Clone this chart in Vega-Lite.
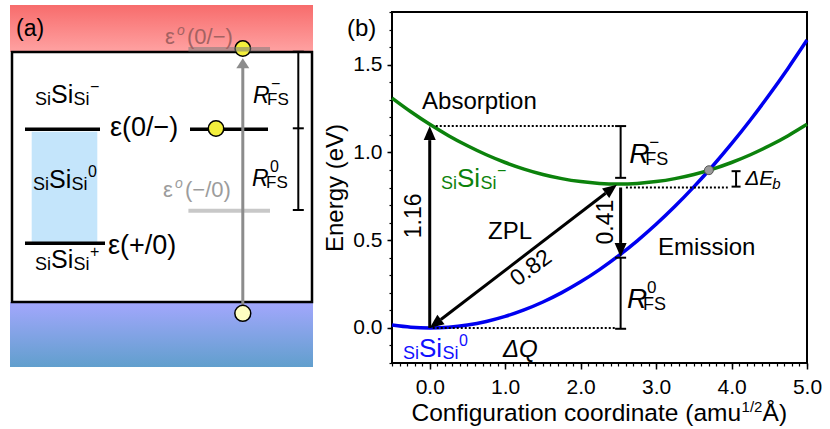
{
"$schema":"https://vega.github.io/schema/vega-lite/v6.json",
"width":415,"height":351,
"autosize":{"type":"none"},
"padding":{"left":392,"top":12,"right":23,"bottom":66},
"background":"white",
"config":{"font":"Liberation Sans","view":{"stroke":"black","strokeWidth":2}},
"datasets":{
"curves":[
{"Q":-0.5,"E0":0.0164,"Em":1.3096},{"Q":-0.25,"E0":0.0041,"Em":1.2314},{"Q":0,"E0":0,"Em":1.16},{"Q":0.25,"E0":0.0041,"Em":1.0954},{"Q":0.5,"E0":0.0164,"Em":1.0376},{"Q":0.75,"E0":0.0369,"Em":0.9866},{"Q":1,"E0":0.0656,"Em":0.9424},{"Q":1.25,"E0":0.1025,"Em":0.905},{"Q":1.5,"E0":0.1476,"Em":0.8744},{"Q":1.75,"E0":0.2009,"Em":0.8506},{"Q":2,"E0":0.2624,"Em":0.8336},{"Q":2.25,"E0":0.3321,"Em":0.8234},{"Q":2.5,"E0":0.41,"Em":0.82},{"Q":2.75,"E0":0.4961,"Em":0.8234},{"Q":3,"E0":0.5904,"Em":0.8336},{"Q":3.25,"E0":0.6929,"Em":0.8506},{"Q":3.5,"E0":0.8036,"Em":0.8744},{"Q":3.75,"E0":0.9225,"Em":0.905},{"Q":4,"E0":1.0496,"Em":0.9424},{"Q":4.25,"E0":1.1849,"Em":0.9866},{"Q":4.5,"E0":1.3284,"Em":1.0376},{"Q":4.75,"E0":1.4801,"Em":1.0954},{"Q":5,"E0":1.64,"Em":1.16}],
"dots":[{"Q":0.08,"Q2":2.47,"E":1.15},{"Q":2.6,"Q2":3.95,"E":0.8},{"Q":0.04,"Q2":2.47,"E":0}],
"shafts":[{"Q":0,"E":0,"Q2":0,"E2":1.07},{"Q":2.53,"E":0.8,"Q2":2.53,"E2":0.484},{"Q":0.148,"E":0.048,"Q2":2.331,"E2":0.767}],
"brk":[{"Q":2.53,"E":0.855,"E2":1.15},{"Q":2.53,"E":-0.005,"E2":0.4},{"Q":4.06,"E":0.805,"E2":0.893}],
"caps11":[{"Q":2.53,"E":0.855},{"Q":2.53,"E":1.15},{"Q":2.53,"E":-0.005},{"Q":2.53,"E":0.4}],
"caps9":[{"Q":4.06,"E":0.805},{"Q":4.06,"E":0.893}],
"txt_b":[{"Q":-1.096,"E":1.666,"t":"(b)"},{"Q":-0.102,"E":1.247,"t":"Absorption"},{"Q":0.773,"E":0.507,"t":"ZPL"},{"Q":3.026,"E":0.415,"t":"Emission"}],
"rot_b":[{"Q":-0.115,"E":0.638,"t":"1.16"},{"Q":2.429,"E":0.603,"t":"0.41"}],
"sis_b":[{"Q":0.149,"E":0.803,"state":"neg","sup":"−"},{"Q":-0.354,"E":-0.165,"state":"neu","sup":"0"}],
"rfs_b":[{"Q":2.643,"E":0.94,"sup":"−"},{"Q":2.615,"E":0.113,"sup":"0"}],
"xt":[{"Q":4.126,"E":-0.533}],
"sis_a":[{"u":1.15,"v":9.975,"sup":"−"},{"u":1.05,"v":5.7,"sup":"0"},{"u":1.15,"v":1.7,"sup":"+"}],
"eps_a":[{"u":4.9,"v":8.3,"t":"ε(0/−)"},{"u":4.8,"v":2.42,"t":"ε(+/0)"}],
"eo_a":[{"u":7.65,"v":12.885,"rest":"(0/−)","k":"top"},{"u":7.55,"v":5.25,"rest":"(−/0)","k":"bot"}],
"rfs_a":[{"u":12.05,"v":9.95,"sup":"−"},{"u":12.0,"v":5.825,"sup":"0"}]
},
"layer":[
{
"resolve":{"axis":{"x":"independent","y":"independent"}},
"layer":[
{"data":{"name":"curves"},"mark":{"type":"line","color":"#0000f0","strokeWidth":3.5,"interpolate":"monotone"},
"encoding":{"x":{"field":"Q","type":"quantitative","scale":{"domain":[-0.5,5],"nice":false,"zero":false},"axis":{"orient":"bottom","values":[0,1,2,3,4,5],"format":".1f","tickSize":6,"tickWidth":1.5,"tickColor":"black","labelFontSize":21,"labelColor":"black","labelPadding":7,"labelFlush":false,"labelOverlap":false,"domain":false,"grid":false,"title":null}},
"y":{"field":"E0","type":"quantitative","scale":{"domain":[-0.2,1.8],"nice":false,"zero":false},"axis":{"orient":"left","values":[0,0.5,1,1.5],"format":".1f","tickSize":5,"tickWidth":1.5,"tickColor":"black","labelFontSize":21,"labelColor":"black","labelPadding":5,"labelOverlap":false,"labelFlush":false,"domain":false,"grid":false,"title":"Energy (eV)","titleFontSize":24,"titleFontWeight":"normal","titleColor":"black","titlePadding":5}}}},
{"data":{"name":"curves"},"mark":{"type":"line","color":"#0c820c","strokeWidth":3.5,"interpolate":"monotone"},
"encoding":{"x":{"field":"Q","type":"quantitative","scale":{"domain":[-0.5,5],"nice":false,"zero":false},"axis":{"orient":"bottom","values":[-0.5,-0.4,-0.3,-0.2,-0.1,0,0.1,0.2,0.3,0.4,0.5,0.6,0.7,0.8,0.9,1,1.1,1.2,1.3,1.4,1.5,1.6,1.7,1.8,1.9,2,2.1,2.2,2.3,2.4,2.5,2.6,2.7,2.8,2.9,3,3.1,3.2,3.3,3.4,3.5,3.6,3.7,3.8,3.9,4,4.1,4.2,4.3,4.4,4.5,4.6,4.7,4.8,4.9,5],"tickSize":3,"tickWidth":1.2,"tickColor":"black","labels":false,"domain":false,"grid":false,"title":null}},
"y":{"field":"Em","type":"quantitative","scale":{"domain":[-0.2,1.8],"nice":false,"zero":false},"axis":{"orient":"left","values":[-0.2,-0.1,0,0.1,0.2,0.3,0.4,0.5,0.6,0.7,0.8,0.9,1,1.1,1.2,1.3,1.4,1.5,1.6,1.7,1.8],"tickSize":3,"tickWidth":1.2,"tickColor":"black","labels":false,"domain":false,"grid":false,"title":null}}}},
{"data":{"name":"dots"},"mark":{"type":"rule","color":"black","strokeWidth":2,"strokeDash":[2,2]},
"encoding":{"x":{"field":"Q","type":"quantitative","scale":{"domain":[-0.5,5],"nice":false,"zero":false},"axis":null},"x2":{"field":"Q2"},"y":{"field":"E","type":"quantitative","scale":{"domain":[-0.2,1.8],"nice":false,"zero":false},"axis":null}}},
{"data":{"name":"shafts"},"mark":{"type":"rule","color":"black","strokeWidth":3},
"encoding":{"x":{"field":"Q","type":"quantitative","scale":{"domain":[-0.5,5],"nice":false,"zero":false},"axis":null},"x2":{"field":"Q2"},"y":{"field":"E","type":"quantitative","scale":{"domain":[-0.2,1.8],"nice":false,"zero":false},"axis":null},"y2":{"field":"E2"}}},
{"data":{"values":[{"Q":0,"E":1.15}]},"mark":{"type":"point","shape":"M0,0L-0.43,1L0.43,1Z","size":784,"filled":true,"color":"black","opacity":1,"angle":0},
"encoding":{"x":{"field":"Q","type":"quantitative","scale":{"domain":[-0.5,5],"nice":false,"zero":false},"axis":null},"y":{"field":"E","type":"quantitative","scale":{"domain":[-0.2,1.8],"nice":false,"zero":false},"axis":null}}},
{"data":{"values":[{"Q":2.53,"E":0.404}]},"mark":{"type":"point","shape":"M0,0L-0.43,1L0.43,1Z","size":784,"filled":true,"color":"black","opacity":1,"angle":180},
"encoding":{"x":{"field":"Q","type":"quantitative","scale":{"domain":[-0.5,5],"nice":false,"zero":false},"axis":null},"y":{"field":"E","type":"quantitative","scale":{"domain":[-0.2,1.8],"nice":false,"zero":false},"axis":null}}},
{"data":{"values":[{"Q":0,"E":0}]},"mark":{"type":"point","shape":"M0,0L-0.43,1L0.43,1Z","size":784,"filled":true,"color":"black","opacity":1,"angle":233.3},
"encoding":{"x":{"field":"Q","type":"quantitative","scale":{"domain":[-0.5,5],"nice":false,"zero":false},"axis":null},"y":{"field":"E","type":"quantitative","scale":{"domain":[-0.2,1.8],"nice":false,"zero":false},"axis":null}}},
{"data":{"values":[{"Q":2.48,"E":0.815}]},"mark":{"type":"point","shape":"M0,0L-0.43,1L0.43,1Z","size":784,"filled":true,"color":"black","opacity":1,"angle":53.3},
"encoding":{"x":{"field":"Q","type":"quantitative","scale":{"domain":[-0.5,5],"nice":false,"zero":false},"axis":null},"y":{"field":"E","type":"quantitative","scale":{"domain":[-0.2,1.8],"nice":false,"zero":false},"axis":null}}},
{"data":{"name":"brk"},"mark":{"type":"rule","color":"black","strokeWidth":2},
"encoding":{"x":{"field":"Q","type":"quantitative","scale":{"domain":[-0.5,5],"nice":false,"zero":false},"axis":null},"y":{"field":"E","type":"quantitative","scale":{"domain":[-0.2,1.8],"nice":false,"zero":false},"axis":null},"y2":{"field":"E2"}}},
{"data":{"name":"caps11"},"mark":{"type":"tick","orient":"horizontal","size":11,"thickness":2,"color":"black","opacity":1},
"encoding":{"x":{"field":"Q","type":"quantitative","scale":{"domain":[-0.5,5],"nice":false,"zero":false},"axis":null},"y":{"field":"E","type":"quantitative","scale":{"domain":[-0.2,1.8],"nice":false,"zero":false},"axis":null}}},
{"data":{"name":"caps9"},"mark":{"type":"tick","orient":"horizontal","size":9,"thickness":2,"color":"black","opacity":1},
"encoding":{"x":{"field":"Q","type":"quantitative","scale":{"domain":[-0.5,5],"nice":false,"zero":false},"axis":null},"y":{"field":"E","type":"quantitative","scale":{"domain":[-0.2,1.8],"nice":false,"zero":false},"axis":null}}},
{"data":{"values":[{"Q":3.7,"E":0.8985}]},"mark":{"type":"point","shape":"circle","size":80,"filled":true,"fill":"#9a9a9a","stroke":"#555555","strokeWidth":1,"opacity":1},
"encoding":{"x":{"field":"Q","type":"quantitative","scale":{"domain":[-0.5,5],"nice":false,"zero":false},"axis":null},"y":{"field":"E","type":"quantitative","scale":{"domain":[-0.2,1.8],"nice":false,"zero":false},"axis":null}}},
{"data":{"name":"txt_b"},"mark":{"type":"text","fontSize":24,"align":"left","baseline":"alphabetic","color":"black"},
"encoding":{"x":{"field":"Q","type":"quantitative","scale":{"domain":[-0.5,5],"nice":false,"zero":false},"axis":null},"y":{"field":"E","type":"quantitative","scale":{"domain":[-0.2,1.8],"nice":false,"zero":false},"axis":null},"text":{"field":"t"}}},
{"data":{"name":"rot_b"},"mark":{"type":"text","fontSize":23,"align":"center","baseline":"alphabetic","angle":270,"color":"black"},
"encoding":{"x":{"field":"Q","type":"quantitative","scale":{"domain":[-0.5,5],"nice":false,"zero":false},"axis":null},"y":{"field":"E","type":"quantitative","scale":{"domain":[-0.2,1.8],"nice":false,"zero":false},"axis":null},"text":{"field":"t"}}},
{"data":{"values":[{"Q":1.343,"E":0.341,"t":"0.82"}]},"mark":{"type":"text","fontSize":23,"align":"center","baseline":"middle","angle":323.3,"color":"black"},
"encoding":{"x":{"field":"Q","type":"quantitative","scale":{"domain":[-0.5,5],"nice":false,"zero":false},"axis":null},"y":{"field":"E","type":"quantitative","scale":{"domain":[-0.2,1.8],"nice":false,"zero":false},"axis":null},"text":{"field":"t"}}},
{"data":{"values":[{"Q":0.971,"E":-0.164,"t":"ΔQ"}]},"mark":{"type":"text","fontSize":24,"fontStyle":"italic","align":"left","baseline":"alphabetic","color":"black"},
"encoding":{"x":{"field":"Q","type":"quantitative","scale":{"domain":[-0.5,5],"nice":false,"zero":false},"axis":null},"y":{"field":"E","type":"quantitative","scale":{"domain":[-0.2,1.8],"nice":false,"zero":false},"axis":null},"text":{"field":"t"}}},
{"data":{"values":[{"Q":4.18,"E":0.814}]},"mark":{"type":"text","text":"ΔE","fontSize":21,"fontStyle":"italic","align":"left","baseline":"alphabetic","color":"black"},
"encoding":{"x":{"field":"Q","type":"quantitative","scale":{"domain":[-0.5,5],"nice":false,"zero":false},"axis":null},"y":{"field":"E","type":"quantitative","scale":{"domain":[-0.2,1.8],"nice":false,"zero":false},"axis":null}}},
{"data":{"values":[{"Q":4.18,"E":0.814}]},"mark":{"type":"text","text":"b","fontSize":15,"fontStyle":"italic","align":"left","baseline":"alphabetic","dx":27,"dy":4,"color":"black"},
"encoding":{"x":{"field":"Q","type":"quantitative","scale":{"domain":[-0.5,5],"nice":false,"zero":false},"axis":null},"y":{"field":"E","type":"quantitative","scale":{"domain":[-0.2,1.8],"nice":false,"zero":false},"axis":null}}},
{"data":{"name":"sis_b"},"mark":{"type":"text","text":"Si","fontSize":18,"align":"left","baseline":"alphabetic","dy":2},
"encoding":{"x":{"field":"Q","type":"quantitative","scale":{"domain":[-0.5,5],"nice":false,"zero":false},"axis":null},"y":{"field":"E","type":"quantitative","scale":{"domain":[-0.2,1.8],"nice":false,"zero":false},"axis":null},"color":{"field":"state","type":"nominal","scale":{"domain":["neg","neu"],"range":["#0c820c","#1010ff"]},"legend":null}}},
{"data":{"name":"sis_b"},"mark":{"type":"text","text":"Si","fontSize":26,"align":"left","baseline":"alphabetic","dx":16},
"encoding":{"x":{"field":"Q","type":"quantitative","scale":{"domain":[-0.5,5],"nice":false,"zero":false},"axis":null},"y":{"field":"E","type":"quantitative","scale":{"domain":[-0.2,1.8],"nice":false,"zero":false},"axis":null},"color":{"field":"state","type":"nominal","scale":{"domain":["neg","neu"],"range":["#0c820c","#1010ff"]},"legend":null}}},
{"data":{"name":"sis_b"},"mark":{"type":"text","text":"Si","fontSize":18,"align":"left","baseline":"alphabetic","dx":39.5,"dy":2},
"encoding":{"x":{"field":"Q","type":"quantitative","scale":{"domain":[-0.5,5],"nice":false,"zero":false},"axis":null},"y":{"field":"E","type":"quantitative","scale":{"domain":[-0.2,1.8],"nice":false,"zero":false},"axis":null},"color":{"field":"state","type":"nominal","scale":{"domain":["neg","neu"],"range":["#0c820c","#1010ff"]},"legend":null}}},
{"data":{"name":"sis_b"},"mark":{"type":"text","fontSize":16,"align":"left","baseline":"alphabetic","dx":56,"dy":-11},
"encoding":{"x":{"field":"Q","type":"quantitative","scale":{"domain":[-0.5,5],"nice":false,"zero":false},"axis":null},"y":{"field":"E","type":"quantitative","scale":{"domain":[-0.2,1.8],"nice":false,"zero":false},"axis":null},"text":{"field":"sup"},"color":{"field":"state","type":"nominal","scale":{"domain":["neg","neu"],"range":["#0c820c","#1010ff"]},"legend":null}}},
{"data":{"name":"rfs_b"},"mark":{"type":"text","text":"R","fontSize":28,"fontStyle":"italic","align":"left","baseline":"alphabetic","color":"black"},
"encoding":{"x":{"field":"Q","type":"quantitative","scale":{"domain":[-0.5,5],"nice":false,"zero":false},"axis":null},"y":{"field":"E","type":"quantitative","scale":{"domain":[-0.2,1.8],"nice":false,"zero":false},"axis":null}}},
{"data":{"name":"rfs_b"},"mark":{"type":"text","text":"FS","fontSize":18,"align":"left","baseline":"alphabetic","dx":16,"dy":2,"color":"black"},
"encoding":{"x":{"field":"Q","type":"quantitative","scale":{"domain":[-0.5,5],"nice":false,"zero":false},"axis":null},"y":{"field":"E","type":"quantitative","scale":{"domain":[-0.2,1.8],"nice":false,"zero":false},"axis":null}}},
{"data":{"name":"rfs_b"},"mark":{"type":"text","fontSize":17,"align":"left","baseline":"alphabetic","dx":20,"dy":-15,"color":"black"},
"encoding":{"x":{"field":"Q","type":"quantitative","scale":{"domain":[-0.5,5],"nice":false,"zero":false},"axis":null},"y":{"field":"E","type":"quantitative","scale":{"domain":[-0.2,1.8],"nice":false,"zero":false},"axis":null},"text":{"field":"sup"}}},
{"data":{"name":"xt"},"mark":{"type":"text","text":"Configuration coordinate (amu","fontSize":24.5,"align":"right","baseline":"alphabetic","color":"black"},
"encoding":{"x":{"field":"Q","type":"quantitative","scale":{"domain":[-0.5,5],"nice":false,"zero":false},"axis":null},"y":{"field":"E","type":"quantitative","scale":{"domain":[-0.2,1.8],"nice":false,"zero":false},"axis":null}}},
{"data":{"name":"xt"},"mark":{"type":"text","text":"1/2","fontSize":15,"align":"left","baseline":"alphabetic","dx":0.5,"dy":-9.5,"color":"black"},
"encoding":{"x":{"field":"Q","type":"quantitative","scale":{"domain":[-0.5,5],"nice":false,"zero":false},"axis":null},"y":{"field":"E","type":"quantitative","scale":{"domain":[-0.2,1.8],"nice":false,"zero":false},"axis":null}}},
{"data":{"name":"xt"},"mark":{"type":"text","text":"Å)","fontSize":24.5,"align":"left","baseline":"alphabetic","dx":21.5,"color":"black"},
"encoding":{"x":{"field":"Q","type":"quantitative","scale":{"domain":[-0.5,5],"nice":false,"zero":false},"axis":null},"y":{"field":"E","type":"quantitative","scale":{"domain":[-0.2,1.8],"nice":false,"zero":false},"axis":null}}}
]
},
{
"layer":[
{"data":{"values":[{"u":-0.1,"u2":15.05,"v":12.5,"v2":14.85}]},"mark":{"type":"rect","fill":{"gradient":"linear","x1":0,"y1":0,"x2":0,"y2":1,"stops":[{"offset":0,"color":"#f76c6c"},{"offset":1,"color":"#ffa2a2"}]}},
"encoding":{"x":{"field":"u","type":"quantitative","scale":{"domain":[19,39.75],"nice":false,"zero":false},"axis":null},"x2":{"field":"u2"},"y":{"field":"v","type":"quantitative","scale":{"domain":[-3.05,14.5],"nice":false,"zero":false},"axis":null},"y2":{"field":"v2"}}},
{"data":{"values":[{"u":-0.1,"u2":15.05,"v":-3.25,"v2":0}]},"mark":{"type":"rect","fill":{"gradient":"linear","x1":0,"y1":0,"x2":0,"y2":1,"stops":[{"offset":0,"color":"#a3a7fd"},{"offset":1,"color":"#619fcd"}]}},
"encoding":{"x":{"field":"u","type":"quantitative","scale":{"domain":[19,39.75],"nice":false,"zero":false},"axis":null},"x2":{"field":"u2"},"y":{"field":"v","type":"quantitative","scale":{"domain":[-3.05,14.5],"nice":false,"zero":false},"axis":null},"y2":{"field":"v2"}}},
{"data":{"values":[{"u":0,"u2":15,"v":0,"v2":12.5}]},"mark":{"type":"rect","fill":"white","stroke":"black","strokeWidth":2.5},
"encoding":{"x":{"field":"u","type":"quantitative","scale":{"domain":[19,39.75],"nice":false,"zero":false},"axis":null},"x2":{"field":"u2"},"y":{"field":"v","type":"quantitative","scale":{"domain":[-3.05,14.5],"nice":false,"zero":false},"axis":null},"y2":{"field":"v2"}}},
{"data":{"values":[{"u":0.985,"u2":4.265,"v":2.935,"v2":8.515}]},"mark":{"type":"rect","fill":"#c4e5fb"},
"encoding":{"x":{"field":"u","type":"quantitative","scale":{"domain":[19,39.75],"nice":false,"zero":false},"axis":null},"x2":{"field":"u2"},"y":{"field":"v","type":"quantitative","scale":{"domain":[-3.05,14.5],"nice":false,"zero":false},"axis":null},"y2":{"field":"v2"}}},
{"data":{"values":[{"u":0.65,"u2":4.4,"v":8.635},{"u":8.9,"u2":12.8,"v":8.635},{"u":0.65,"u2":4.65,"v":2.935}]},"mark":{"type":"rule","color":"black","strokeWidth":3.5},
"encoding":{"x":{"field":"u","type":"quantitative","scale":{"domain":[19,39.75],"nice":false,"zero":false},"axis":null},"x2":{"field":"u2"},"y":{"field":"v","type":"quantitative","scale":{"domain":[-3.05,14.5],"nice":false,"zero":false},"axis":null}}},
{"data":{"values":[{"u":8.82,"u2":12.9,"v":4.565}]},"mark":{"type":"rule","color":"#c8c8c8","strokeWidth":4},
"encoding":{"x":{"field":"u","type":"quantitative","scale":{"domain":[19,39.75],"nice":false,"zero":false},"axis":null},"x2":{"field":"u2"},"y":{"field":"v","type":"quantitative","scale":{"domain":[-3.05,14.5],"nice":false,"zero":false},"axis":null}}},
{"data":{"values":[{"u":11.54,"v":-0.565,"v2":11.7}]},"mark":{"type":"rule","color":"#8c8c8c","strokeWidth":3},
"encoding":{"x":{"field":"u","type":"quantitative","scale":{"domain":[19,39.75],"nice":false,"zero":false},"axis":null},"y":{"field":"v","type":"quantitative","scale":{"domain":[-3.05,14.5],"nice":false,"zero":false},"axis":null},"y2":{"field":"v2"}}},
{"data":{"values":[{"u":11.54,"v":12.185}]},"mark":{"type":"point","shape":"M0,0L-0.65,1L0.65,1Z","size":400,"filled":true,"color":"#8c8c8c","opacity":1},
"encoding":{"x":{"field":"u","type":"quantitative","scale":{"domain":[19,39.75],"nice":false,"zero":false},"axis":null},"y":{"field":"v","type":"quantitative","scale":{"domain":[-3.05,14.5],"nice":false,"zero":false},"axis":null}}},
{"data":{"values":[{"u":10.2,"v":8.675},{"u":11.54,"v":12.67}]},"mark":{"type":"point","shape":"circle","size":240,"filled":true,"fill":"#f3ef3c","stroke":"black","strokeWidth":1.5,"opacity":1},
"encoding":{"x":{"field":"u","type":"quantitative","scale":{"domain":[19,39.75],"nice":false,"zero":false},"axis":null},"y":{"field":"v","type":"quantitative","scale":{"domain":[-3.05,14.5],"nice":false,"zero":false},"axis":null}}},
{"data":{"values":[{"u":11.54,"v":-0.565}]},"mark":{"type":"point","shape":"circle","size":254,"filled":true,"fill":"#ffffc2","stroke":"black","strokeWidth":1.5,"opacity":1},
"encoding":{"x":{"field":"u","type":"quantitative","scale":{"domain":[19,39.75],"nice":false,"zero":false},"axis":null},"y":{"field":"v","type":"quantitative","scale":{"domain":[-3.05,14.5],"nice":false,"zero":false},"axis":null}}},
{"data":{"values":[{"u":8.82,"u2":12.9,"v":12.64}]},"mark":{"type":"rule","color":"#7a7a7a","strokeWidth":4.5,"opacity":0.55},
"encoding":{"x":{"field":"u","type":"quantitative","scale":{"domain":[19,39.75],"nice":false,"zero":false},"axis":null},"x2":{"field":"u2"},"y":{"field":"v","type":"quantitative","scale":{"domain":[-3.05,14.5],"nice":false,"zero":false},"axis":null}}},
{"data":{"values":[{"u":14.315,"v":4.6,"v2":12.515}]},"mark":{"type":"rule","color":"black","strokeWidth":2},
"encoding":{"x":{"field":"u","type":"quantitative","scale":{"domain":[19,39.75],"nice":false,"zero":false},"axis":null},"y":{"field":"v","type":"quantitative","scale":{"domain":[-3.05,14.5],"nice":false,"zero":false},"axis":null},"y2":{"field":"v2"}}},
{"data":{"values":[{"u":14.315,"v":12.515},{"u":14.315,"v":8.685},{"u":14.315,"v":4.6}]},"mark":{"type":"tick","orient":"horizontal","size":11,"thickness":2,"color":"black","opacity":1},
"encoding":{"x":{"field":"u","type":"quantitative","scale":{"domain":[19,39.75],"nice":false,"zero":false},"axis":null},"y":{"field":"v","type":"quantitative","scale":{"domain":[-3.05,14.5],"nice":false,"zero":false},"axis":null}}},
{"data":{"values":[{"u":0.2,"v":13.3,"t":"(a)"}]},"mark":{"type":"text","fontSize":23,"align":"left","baseline":"alphabetic","color":"black"},
"encoding":{"x":{"field":"u","type":"quantitative","scale":{"domain":[19,39.75],"nice":false,"zero":false},"axis":null},"y":{"field":"v","type":"quantitative","scale":{"domain":[-3.05,14.5],"nice":false,"zero":false},"axis":null},"text":{"field":"t"}}},
{"data":{"name":"eps_a"},"mark":{"type":"text","fontSize":27,"align":"left","baseline":"alphabetic","color":"black"},
"encoding":{"x":{"field":"u","type":"quantitative","scale":{"domain":[19,39.75],"nice":false,"zero":false},"axis":null},"y":{"field":"v","type":"quantitative","scale":{"domain":[-3.05,14.5],"nice":false,"zero":false},"axis":null},"text":{"field":"t"}}},
{"data":{"name":"sis_a"},"mark":{"type":"text","text":"Si","fontSize":18,"align":"left","baseline":"alphabetic","dy":2,"color":"black"},
"encoding":{"x":{"field":"u","type":"quantitative","scale":{"domain":[19,39.75],"nice":false,"zero":false},"axis":null},"y":{"field":"v","type":"quantitative","scale":{"domain":[-3.05,14.5],"nice":false,"zero":false},"axis":null}}},
{"data":{"name":"sis_a"},"mark":{"type":"text","text":"Si","fontSize":25,"align":"left","baseline":"alphabetic","dx":16,"color":"black"},
"encoding":{"x":{"field":"u","type":"quantitative","scale":{"domain":[19,39.75],"nice":false,"zero":false},"axis":null},"y":{"field":"v","type":"quantitative","scale":{"domain":[-3.05,14.5],"nice":false,"zero":false},"axis":null}}},
{"data":{"name":"sis_a"},"mark":{"type":"text","text":"Si","fontSize":18,"align":"left","baseline":"alphabetic","dx":38.5,"dy":2,"color":"black"},
"encoding":{"x":{"field":"u","type":"quantitative","scale":{"domain":[19,39.75],"nice":false,"zero":false},"axis":null},"y":{"field":"v","type":"quantitative","scale":{"domain":[-3.05,14.5],"nice":false,"zero":false},"axis":null}}},
{"data":{"name":"sis_a"},"mark":{"type":"text","fontSize":16,"align":"left","baseline":"alphabetic","dx":55,"dy":-11,"color":"black"},
"encoding":{"x":{"field":"u","type":"quantitative","scale":{"domain":[19,39.75],"nice":false,"zero":false},"axis":null},"y":{"field":"v","type":"quantitative","scale":{"domain":[-3.05,14.5],"nice":false,"zero":false},"axis":null},"text":{"field":"sup"}}},
{"data":{"name":"eo_a"},"mark":{"type":"text","text":"ε","fontSize":22,"align":"left","baseline":"alphabetic"},
"encoding":{"x":{"field":"u","type":"quantitative","scale":{"domain":[19,39.75],"nice":false,"zero":false},"axis":null},"y":{"field":"v","type":"quantitative","scale":{"domain":[-3.05,14.5],"nice":false,"zero":false},"axis":null},"color":{"field":"k","type":"nominal","scale":{"domain":["top","bot"],"range":["#a46262","#9c9c9c"]},"legend":null}}},
{"data":{"name":"eo_a"},"mark":{"type":"text","text":"o","fontSize":14,"fontStyle":"italic","align":"left","baseline":"alphabetic","dx":12,"dy":-9},
"encoding":{"x":{"field":"u","type":"quantitative","scale":{"domain":[19,39.75],"nice":false,"zero":false},"axis":null},"y":{"field":"v","type":"quantitative","scale":{"domain":[-3.05,14.5],"nice":false,"zero":false},"axis":null},"color":{"field":"k","type":"nominal","scale":{"domain":["top","bot"],"range":["#a46262","#9c9c9c"]},"legend":null}}},
{"data":{"name":"eo_a"},"mark":{"type":"text","fontSize":22,"align":"left","baseline":"alphabetic","dx":22},
"encoding":{"x":{"field":"u","type":"quantitative","scale":{"domain":[19,39.75],"nice":false,"zero":false},"axis":null},"y":{"field":"v","type":"quantitative","scale":{"domain":[-3.05,14.5],"nice":false,"zero":false},"axis":null},"text":{"field":"rest"},"color":{"field":"k","type":"nominal","scale":{"domain":["top","bot"],"range":["#a46262","#9c9c9c"]},"legend":null}}},
{"data":{"name":"rfs_a"},"mark":{"type":"text","text":"R","fontSize":23,"fontStyle":"italic","align":"left","baseline":"alphabetic","color":"black"},
"encoding":{"x":{"field":"u","type":"quantitative","scale":{"domain":[19,39.75],"nice":false,"zero":false},"axis":null},"y":{"field":"v","type":"quantitative","scale":{"domain":[-3.05,14.5],"nice":false,"zero":false},"axis":null}}},
{"data":{"name":"rfs_a"},"mark":{"type":"text","text":"FS","fontSize":17,"align":"left","baseline":"alphabetic","dx":14,"dy":2,"color":"black"},
"encoding":{"x":{"field":"u","type":"quantitative","scale":{"domain":[19,39.75],"nice":false,"zero":false},"axis":null},"y":{"field":"v","type":"quantitative","scale":{"domain":[-3.05,14.5],"nice":false,"zero":false},"axis":null}}},
{"data":{"name":"rfs_a"},"mark":{"type":"text","fontSize":16,"align":"left","baseline":"alphabetic","dx":18,"dy":-14,"color":"black"},
"encoding":{"x":{"field":"u","type":"quantitative","scale":{"domain":[19,39.75],"nice":false,"zero":false},"axis":null},"y":{"field":"v","type":"quantitative","scale":{"domain":[-3.05,14.5],"nice":false,"zero":false},"axis":null},"text":{"field":"sup"}}}
]
}
],
"resolve":{"scale":{"x":"independent","y":"independent","color":"independent"}}
}
